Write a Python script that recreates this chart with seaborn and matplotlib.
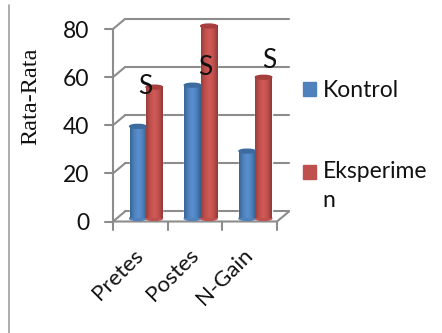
import numpy as np
import pandas as pd
import seaborn as sns
from matplotlib import pyplot as plt
from matplotlib.colors import LinearSegmentedColormap
from matplotlib.lines import Line2D
from matplotlib.patches import Ellipse
from matplotlib.transforms import ScaledTranslation

categories = ['Pretes', 'Postes', 'N-Gain']
series_names = ['Kontrol', 'Eksperime\nn']
kontrol = [38.3, 55.4, 28]
eksperimen = [54.6, 80, 58.7]
yticks = [0, 20, 40, 60, 80]
s_labels = ['S', 'S', 'S']
s_positions = [0.085, 1.183, 2.353]
s_heights = [56, 64, 66.9]

W, H = 442, 333
LINE = '#8c8c8c'
BLUE = '#4f81bd'
RED = '#c0504d'

df = pd.DataFrame({
    'kategori': categories * 2,
    'nilai': kontrol + eksperimen,
    'seri': [series_names[0]] * 3 + [series_names[1]] * 3,
})

sns.set_theme(style='white')
plt.rcParams['font.family'] = ['Lato', 'DejaVu Sans']

fig = plt.figure(figsize=(W / 100, H / 100), dpi=100)
ax = fig.add_axes([113 / W, 1 - 221.5 / H, 164 / W, 192.5 / H])

sns.barplot(data=df, x='kategori', y='nilai', hue='seri', palette=[BLUE, RED],
            width=0.6, gap=0, ax=ax, legend=False)

ax.set_xlim(-0.5, 2.5)
ax.set_ylim(0, 80)
ax.set_xlabel('')
ax.set_ylabel('')
for spine in ax.spines.values():
    spine.set_visible(False)

# fake 3d box, back wall is 12 px right and 10 px up from the front
dx = 12 / 164
dy = 10 / 2.4
tr = ax.get_yaxis_transform()
for v in yticks:
    ax.plot([0, dx], [v, v + dy], transform=tr, color=LINE, lw=1.5, clip_on=False, zorder=1)
    ax.plot([-8 / 164, 0], [v, v], transform=tr, color=LINE, lw=1.5, clip_on=False, zorder=1)
    ax.plot([dx, 1 + dx], [v + dy, v + dy], transform=tr, color=LINE, lw=1.5, clip_on=False, zorder=1)
ax.plot([0, 0], [0, 80], transform=tr, color=LINE, lw=1.5, clip_on=False, zorder=1)
ax.plot([0, 1, 1 + dx], [0, 0, dy], transform=tr, color=LINE, lw=1.5, clip_on=False, zorder=1)
for b in [0, 1, 2, 3]:
    ax.plot([b / 3, b / 3], [0, -8 / 2.4], transform=tr, color=LINE, lw=1.5, clip_on=False, zorder=1)

# cylinders: shift bars onto the floor and shade them
shift_x = 0.104
base = 1.25
shades = {
    BLUE: ['#3a6596', '#4f81bd', '#5a90cf', '#4f81bd', '#35608f'],
    RED: ['#9a3f3d', '#c0504d', '#d25a57', '#c0504d', '#8f3a38'],
}
tops = {BLUE: '#3d6a9f', RED: '#a53e3c'}
bars = [p for p in ax.patches if p.get_height() > 0]
for i, bar in enumerate(bars):
    key = BLUE if i < 3 else RED
    x0 = bar.get_x() + shift_x
    w = bar.get_width()
    h = bar.get_height()
    bar.set_x(x0)
    bar.set_y(base)
    bar.set_clip_on(False)
    bar.set_zorder(2)
    cmap = LinearSegmentedColormap.from_list('cyl', shades[key])
    ax.add_patch(Ellipse((x0 + w / 2, base), w, 1.6, color=shades[key][1], zorder=2 + i * 0.01, clip_on=False))
    ax.imshow(np.linspace(0, 1, 32).reshape(1, -1), cmap=cmap, aspect='auto',
              extent=[x0, x0 + w, base, base + h], zorder=2 + i * 0.01, clip_on=False)
    ax.add_patch(Ellipse((x0 + w / 2, base + h), w, 1.6, color=tops[key], zorder=2.5, clip_on=False))
ax.set_xlim(-0.5, 2.5)
ax.set_ylim(0, 80)

ax.set_yticks(yticks)
ax.set_yticklabels([str(v) for v in yticks], fontsize=16.5, color='#111111')
ax.tick_params(axis='y', length=0, pad=17)
ax.set_xticks(range(3))
ax.set_xticklabels(categories, rotation=45, ha='right', va='top', rotation_mode='anchor',
                   fontsize=16, color='#111111')
ax.tick_params(axis='x', length=0, pad=17)
for lab in ax.get_xticklabels():
    lab.set_transform(lab.get_transform() + ScaledTranslation(-0.07, 0, fig.dpi_scale_trans))

for pos, lab, h in zip(s_positions, s_labels, s_heights):
    ax.text(pos, h, lab, fontsize=19, ha='center', va='center', color='#111111', zorder=4)

fig.text(31 / W, 1 - 96 / H, 'Rata-Rata', family='Liberation Serif', fontsize=17.5, rotation=90,
         ha='center', va='center', color='#111111')

handles = [plt.Rectangle((0, 0), 1, 1, color=BLUE), plt.Rectangle((0, 0), 1, 1, color=RED)]
leg = fig.legend(handles, series_names, loc='upper left', bbox_to_anchor=(303 / W, 1 - 80 / H), frameon=False,
                 fontsize=16.5, handlelength=0.55, handleheight=0.55, handletextpad=0.3, labelspacing=2.6,
                 labelcolor='#111111', borderpad=0, borderaxespad=0)
for t in leg.get_texts():
    t.set_linespacing(1.5)
# red marker sits next to the first line of its label, not the middle
leg.legend_handles[1].set_y(leg.legend_handles[1].get_y() + 10)

fig.add_artist(Line2D([9 / W, 9 / W], [0, 1 - 5 / H], color='#a0a0a0', lw=1.2))

fig.savefig('out.png', dpi=100)
